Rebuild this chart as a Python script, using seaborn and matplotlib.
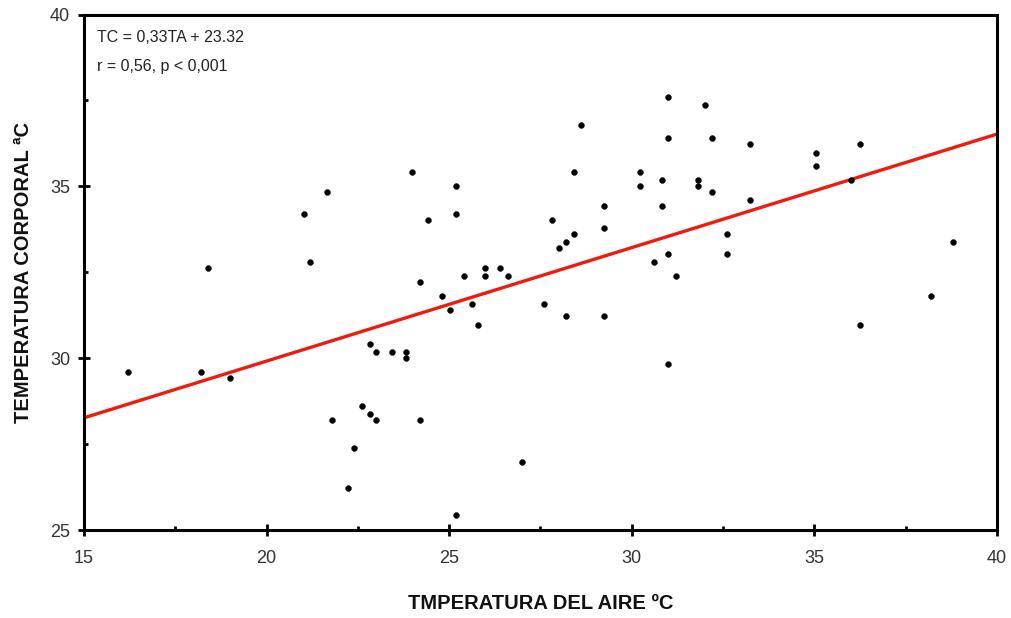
import matplotlib
matplotlib.use("Agg")
import matplotlib.pyplot as plt
import seaborn as sns
import pandas as pd
import numpy as np

# Air temperature (TA) and body temperature (TC)
air_temp = [16.2, 18.2, 19.0, 18.4, 21.03, 21.2, 21.65,
            28.62, 23.98, 28.42, 30.22, 25.18, 30.22, 29.23,
            30.99, 32.02, 30.99, 32.2, 33.23, 35.04, 35.04, 36.24, 36.01,
            30.83, 31.81, 31.81, 32.2, 33.23, 30.83,
            24.41, 25.18, 27.81, 29.23, 28.42, 28.20, 28.02, 30.6,
            25.99, 26.39, 25.40, 25.99, 26.61, 24.21, 24.80, 25.03, 25.62,
            25.78, 27.59, 28.20, 29.23, 22.84, 23.0, 23.43, 23.81, 23.81,
            32.62, 30.99, 32.62, 31.2, 38.81, 38.21, 36.24, 30.99,
            21.78, 22.61, 22.84, 23.0, 24.21, 22.39, 22.23, 26.99, 25.18]
body_temp = [29.6, 29.6, 29.42, 32.63, 34.19, 32.8, 34.83,
             36.80, 35.41, 35.41, 35.41, 35.0, 35.0, 34.42,
             37.61, 37.38, 36.40, 36.40, 36.23, 35.98, 35.60, 36.23, 35.18,
             35.18, 35.18, 35.0, 34.83, 34.6, 34.42,
             34.03, 34.19, 34.03, 33.78, 33.61, 33.38, 33.20, 32.80,
             32.62, 32.62, 32.39, 32.39, 32.39, 32.21, 31.81, 31.40, 31.58,
             30.98, 31.58, 31.24, 31.24, 30.42, 30.18, 30.18, 30.18, 30.01,
             33.61, 33.03, 33.03, 32.39, 33.38, 31.81, 30.98, 29.84,
             28.21, 28.62, 28.39, 28.21, 28.21, 27.39, 26.24, 26.99, 25.43]

slope = 0.33
intercept = 23.32
line_x = [15, 40]
x_ticks = [15, 20, 25, 30, 35, 40]
y_ticks = [25, 30, 35, 40]
eq_text = "TC = 0,33TA + 23.32"
r_text = "r = 0,56, p < 0,001"
x_label = "TMPERATURA DEL AIRE ºC"
y_label = "TEMPERATURA CORPORAL ªC"

sns.set_theme(style="white")
plt.rcParams['font.family'] = ['Liberation Sans', 'DejaVu Sans']

fig = plt.figure(figsize=(10.12, 6.18), dpi=100)
ax = fig.add_axes([0.083, 0.142, 0.902, 0.8345])

df = pd.DataFrame({"TA": air_temp, "TC": body_temp})
line_df = pd.DataFrame({"TA": line_x, "TC": [slope * v + intercept for v in line_x]})

sns.lineplot(data=line_df, x="TA", y="TC", color="#ee1c0e", linewidth=2.4, ax=ax, zorder=2)
sns.scatterplot(data=df, x="TA", y="TC", color="black", s=18, edgecolor="black",
                linewidth=0.3, ax=ax, zorder=3)

ax.set_xlim(15, 40)
ax.set_ylim(25, 40)
ax.set_xticks(x_ticks)
ax.set_yticks(y_ticks)
ax.set_xticks([17.5, 22.5, 27.5, 32.5, 37.5], minor=True)
ax.set_yticks([27.5, 32.5, 37.5], minor=True)
ax.tick_params(axis="both", which="major", direction="inout", length=8, width=2,
               color="black", labelsize=13, labelcolor="#333333", pad=6,
               bottom=True, left=True)
ax.tick_params(axis="both", which="minor", direction="in", length=3, width=2,
               color="black", bottom=True, left=True)
ax.tick_params(axis="x", which="major", pad=10)

for sp in ax.spines.values():
    sp.set_visible(True)
    sp.set_linewidth(2.2)
    sp.set_color("black")

ax.set_xlabel(x_label, fontsize=14.5, fontweight="bold", color="#111111", labelpad=20)
ax.set_ylabel(y_label, fontsize=14.5, fontweight="bold", color="#111111", labelpad=12)

ax.text(0.0145, 0.955, eq_text, transform=ax.transAxes, fontsize=11.5,
        color="#222222", va="center", ha="left")
ax.text(0.0145, 0.9, r_text, transform=ax.transAxes, fontsize=11.5,
        color="#222222", va="center", ha="left")

fig.savefig("out.png", dpi=100)
